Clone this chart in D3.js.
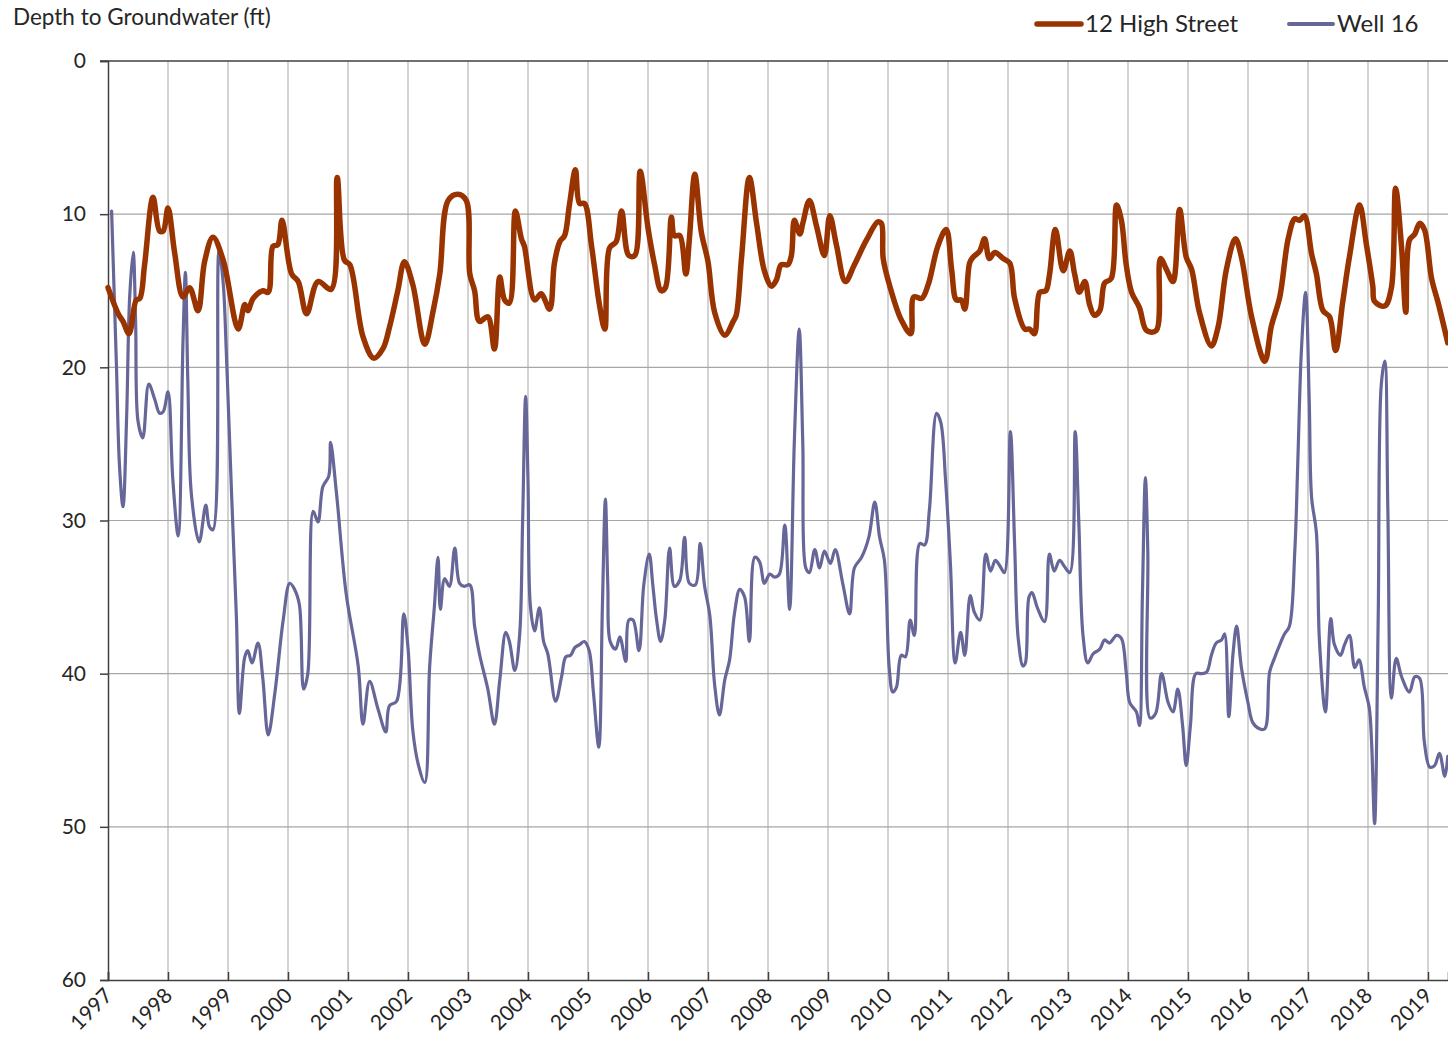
<!DOCTYPE html>
<html>
<head>
<meta charset="utf-8">
<script src="https://cdn.jsdelivr.net/npm/d3@7"></script>
<style>
  body { margin: 0; background: #fff; }
  svg { display: block; font-family: Lato, "Open Sans", sans-serif; }
</style>
</head>
<body>
<svg id="chart" width="1448" height="1054"></svg>
<script>
// 12 High Street, decimal year / depth (ft)
const hsYears = [1997.00,1997.17,1997.25,1997.35,1997.47,1997.53,1997.61,1997.75,1997.86,1997.92,1998.00,1998.11,1998.25,1998.36,1998.50,1998.61,1998.75,1998.92,1999.17,1999.28,1999.33,1999.42,1999.58,1999.67,1999.75,1999.83,1999.90,2000.06,2000.17,2000.31,2000.50,2000.72,2000.82,2000.94,2001.03,2001.25,2001.43,2001.58,2001.69,2001.83,2001.94,2002.08,2002.28,2002.42,2002.53,2002.67,2002.83,2002.97,2003.03,2003.11,2003.19,2003.33,2003.44,2003.53,2003.61,2003.69,2003.79,2003.89,2003.94,2004.11,2004.22,2004.36,2004.44,2004.53,2004.61,2004.69,2004.79,2004.86,2004.94,2005.06,2005.19,2005.28,2005.36,2005.47,2005.56,2005.68,2005.78,2005.87,2006.00,2006.11,2006.22,2006.29,2006.39,2006.44,2006.53,2006.63,2006.69,2006.78,2006.89,2007.00,2007.11,2007.28,2007.42,2007.47,2007.56,2007.69,2007.81,2007.94,2008.06,2008.14,2008.22,2008.33,2008.39,2008.44,2008.53,2008.58,2008.69,2008.81,2008.94,2009.03,2009.14,2009.29,2009.44,2009.64,2009.83,2009.89,2009.92,2010.03,2010.22,2010.38,2010.43,2010.56,2010.67,2010.83,2010.97,2011.06,2011.14,2011.22,2011.28,2011.36,2011.42,2011.53,2011.61,2011.69,2011.78,2011.92,2012.03,2012.11,2012.28,2012.36,2012.44,2012.53,2012.63,2012.69,2012.79,2012.92,2013.03,2013.11,2013.19,2013.28,2013.36,2013.44,2013.53,2013.61,2013.72,2013.81,2013.89,2013.97,2014.06,2014.19,2014.31,2014.47,2014.54,2014.64,2014.75,2014.86,2014.97,2015.06,2015.19,2015.39,2015.50,2015.64,2015.79,2015.89,2016.06,2016.28,2016.39,2016.53,2016.67,2016.78,2016.86,2016.94,2017.06,2017.14,2017.25,2017.36,2017.46,2017.58,2017.69,2017.86,2017.97,2018.08,2018.11,2018.28,2018.39,2018.46,2018.56,2018.63,2018.69,2018.78,2018.86,2018.94,2019.06,2019.17,2019.33];
const hsDepth = [14.8,16.5,17.0,17.8,15.6,15.5,13.3,8.9,11.1,11.1,9.6,12.5,15.4,14.8,16.3,13.1,11.5,13.0,17.5,15.9,16.3,15.5,15.0,15.1,12.1,12.0,10.4,13.9,14.4,16.5,14.4,14.9,7.6,13.0,13.3,18.0,19.4,18.8,17.4,15.0,13.1,14.6,18.5,16.3,13.9,9.1,8.7,9.1,13.9,15.0,17.0,16.7,18.8,14.1,15.6,15.8,9.8,11.6,12.1,15.6,15.2,16.2,13.2,11.8,11.4,9.4,7.1,9.3,9.3,12.1,15.9,17.5,12.2,11.8,9.8,12.7,12.7,7.2,10.9,13.3,15.0,14.8,10.2,11.4,11.4,13.9,11.6,7.4,11.2,13.1,16.4,17.9,17.0,16.6,12.8,7.6,10.6,13.7,14.7,14.3,13.3,13.3,12.7,10.4,11.3,10.6,9.1,10.8,12.7,10.1,12.0,14.4,13.3,11.7,10.5,10.6,12.9,14.7,16.9,17.8,15.4,15.5,14.6,12.1,11.0,13.6,15.6,15.6,16.2,13.2,12.8,12.4,11.6,12.9,12.5,12.9,13.2,15.5,17.5,17.5,17.8,15.1,15.0,14.0,11.0,13.7,12.4,13.9,15.1,14.4,15.9,16.6,16.3,14.5,14.2,9.4,10.4,13.3,15.1,16.1,17.6,17.6,12.9,13.6,14.4,9.7,12.8,13.6,16.4,18.6,17.4,13.6,11.6,12.8,16.7,19.6,17.3,15.4,11.6,10.3,10.4,10.1,12.6,13.9,16.3,16.7,18.9,15.7,12.8,9.4,11.9,14.7,15.7,16.0,14.8,8.3,12.2,16.4,11.7,11.3,10.6,11.0,14.2,15.8,18.4];

// Well 16, decimal year / depth (ft)
const wellYears = [1997.06,1997.14,1997.19,1997.25,1997.31,1997.36,1997.42,1997.46,1997.50,1997.58,1997.68,1997.78,1997.86,1997.92,1998.00,1998.08,1998.17,1998.25,1998.29,1998.33,1998.39,1998.52,1998.63,1998.69,1998.75,1998.85,1998.92,1998.97,1999.06,1999.14,1999.19,1999.28,1999.33,1999.40,1999.50,1999.58,1999.67,1999.78,1999.92,2000.03,2000.11,2000.19,2000.26,2000.33,2000.42,2000.50,2000.58,2000.68,2000.71,2000.81,2000.97,2001.17,2001.25,2001.36,2001.50,2001.63,2001.69,2001.81,2001.93,2002.00,2002.08,2002.17,2002.28,2002.36,2002.44,2002.50,2002.54,2002.61,2002.69,2002.78,2002.86,2002.94,2003.03,2003.11,2003.19,2003.33,2003.44,2003.53,2003.63,2003.69,2003.78,2003.86,2003.91,2003.96,2004.00,2004.04,2004.11,2004.19,2004.26,2004.33,2004.46,2004.56,2004.63,2004.71,2004.78,2004.86,2004.94,2005.02,2005.09,2005.18,2005.24,2005.29,2005.33,2005.37,2005.46,2005.53,2005.63,2005.68,2005.75,2005.85,2005.93,2006.02,2006.08,2006.14,2006.21,2006.28,2006.36,2006.44,2006.53,2006.61,2006.69,2006.79,2006.87,2006.94,2007.03,2007.11,2007.19,2007.28,2007.36,2007.44,2007.53,2007.61,2007.69,2007.78,2007.86,2007.94,2008.03,2008.11,2008.19,2008.28,2008.36,2008.44,2008.52,2008.58,2008.63,2008.69,2008.78,2008.86,2008.94,2009.04,2009.12,2009.25,2009.36,2009.44,2009.56,2009.68,2009.78,2009.86,2009.94,2010.02,2010.08,2010.14,2010.22,2010.29,2010.37,2010.44,2010.53,2010.61,2010.69,2010.81,2010.88,2010.96,2011.04,2011.12,2011.21,2011.28,2011.37,2011.44,2011.53,2011.63,2011.71,2011.79,2011.87,2011.94,2012.04,2012.11,2012.17,2012.25,2012.29,2012.35,2012.40,2012.49,2012.61,2012.69,2012.77,2012.86,2012.94,2013.03,2013.12,2013.18,2013.25,2013.33,2013.42,2013.53,2013.61,2013.69,2013.81,2013.89,2013.97,2014.03,2014.14,2014.19,2014.24,2014.29,2014.33,2014.37,2014.46,2014.56,2014.67,2014.75,2014.83,2014.91,2014.97,2015.04,2015.13,2015.22,2015.31,2015.39,2015.47,2015.56,2015.61,2015.68,2015.75,2015.81,2015.89,2016.00,2016.08,2016.19,2016.28,2016.36,2016.44,2016.53,2016.61,2016.69,2016.78,2016.83,2016.89,2016.96,2017.02,2017.06,2017.14,2017.19,2017.29,2017.38,2017.44,2017.54,2017.61,2017.69,2017.78,2017.85,2017.94,2018.02,2018.06,2018.11,2018.17,2018.22,2018.28,2018.33,2018.39,2018.47,2018.56,2018.69,2018.78,2018.86,2018.94,2019.03,2019.11,2019.19,2019.28,2019.33];
const wellDepth = [9.8,19.8,26.3,29.1,23.3,15.5,12.5,17.0,23.5,24.6,21.1,22.1,23.0,22.9,21.6,27.3,31.0,18.3,13.8,20.8,28.3,31.4,29.0,30.4,30.6,12.4,14.5,18.8,28.3,36.3,42.6,38.9,38.5,39.3,38.0,40.3,44.0,41.3,36.5,34.1,34.5,35.5,41.0,40.0,29.4,30.1,27.8,27.1,24.9,28.3,34.8,39.5,43.3,40.5,42.3,43.8,42.1,41.8,36.1,38.3,43.7,45.9,47.1,39.6,35.6,32.4,35.8,33.8,34.3,31.8,34.1,34.3,34.2,36.9,38.7,41.0,43.3,40.4,37.3,37.9,39.8,37.5,30.1,21.9,27.4,35.6,37.2,35.7,37.9,38.7,41.8,40.2,38.9,38.8,38.3,38.1,37.9,38.5,41.2,44.8,35.6,28.6,34.2,37.9,38.4,37.6,39.2,36.5,36.5,38.5,34.2,32.2,34.2,36.4,37.9,36.5,31.8,34.3,33.9,31.1,34.1,34.2,31.5,34.2,36.2,40.7,42.7,40.4,39.1,36.1,34.5,35.0,37.9,32.4,32.7,34.1,33.5,33.7,33.5,30.3,35.8,24.7,17.5,25.0,33.1,33.4,31.9,33.1,32.0,32.8,31.9,34.2,36.1,33.1,32.4,31.1,28.8,31.1,32.6,39.6,41.2,40.9,38.8,38.9,36.5,37.5,31.5,31.6,29.3,23.0,23.6,27.4,32.8,39.3,37.3,38.8,34.9,36.0,36.5,32.2,33.3,32.6,33.0,33.4,24.2,31.5,37.7,39.5,39.3,35.0,34.7,35.7,36.6,32.2,33.3,32.6,33.0,33.4,24.2,30.1,37.5,39.3,38.7,38.4,37.8,38.0,37.5,37.7,39.9,41.9,42.5,43.4,34.9,27.2,32.0,42.9,42.6,40.0,41.9,42.5,41.0,43.4,46.0,43.4,40.0,40.0,39.9,38.8,38.0,37.8,37.4,42.8,38.7,36.9,39.6,41.9,43.2,43.6,43.6,39.9,39.0,38.1,37.4,36.9,32.0,26.2,18.9,15.1,22.1,28.5,30.8,37.8,42.5,36.4,38.1,38.8,38.1,37.5,39.6,39.1,40.9,42.2,44.5,49.8,36.4,21.2,19.6,29.1,41.6,39.0,40.2,41.2,40.2,40.3,44.5,46.1,46.0,45.2,46.7,45.4];

const yearTicks = d3.range(1997, 2020);
const depthTicks = [0, 10, 20, 30, 40, 50, 60];

const seriesNames = ["12 High Street", "Well 16"];
const seriesColors = ["#993300", "#666699"];
const seriesWidths = [5.5, 3.2];

const width = 1448;
const height = 1054;
const margin = { top: 61, right: 0, bottom: 74, left: 108 };
const innerW = width - margin.left - margin.right;
const innerH = height - margin.top - margin.bottom;

const svg = d3.select("#chart");
const chart = svg.append("g")
  .attr("transform", `translate(${margin.left},${margin.top})`);

const x = d3.scaleLinear().domain([1997, 2019 + 1 / 3]).range([0, innerW]);
const y = d3.scaleLinear().domain([0, 60]).range([0, innerH]);

// vertical grid
chart.append("g")
  .selectAll("line")
  .data(yearTicks.slice(1))
  .join("line")
  .attr("x1", d => x(d)).attr("x2", d => x(d))
  .attr("y1", 0).attr("y2", innerH)
  .attr("stroke", "#c4c4c4")
  .attr("stroke-width", 1.5);

// horizontal grid
chart.append("g")
  .selectAll("line")
  .data(depthTicks.slice(1, -1))
  .join("line")
  .attr("x1", 0).attr("x2", innerW)
  .attr("y1", d => y(d)).attr("y2", d => y(d))
  .attr("stroke", "#a6a6a6")
  .attr("stroke-width", 1.2);

// top line at 0
chart.append("line")
  .attr("x1", -8).attr("x2", innerW)
  .attr("y1", 0).attr("y2", 0)
  .attr("stroke", "#404040")
  .attr("stroke-width", 1.5);

// y axis
const yAxis = chart.append("g")
  .call(d3.axisLeft(y).tickValues(depthTicks).tickSize(8).tickPadding(14));
yAxis.select(".domain").attr("stroke", "#404040").attr("stroke-width", 1.5);
yAxis.selectAll(".tick line").attr("stroke", "#404040").attr("stroke-width", 1.5);
yAxis.selectAll(".tick text")
  .attr("fill", "#262626")
  .style("font-size", "21px")
  .style("font-family", "Lato, sans-serif");

// x axis (ticks point inward)
const xAxis = chart.append("g")
  .attr("transform", `translate(0,${innerH})`)
  .call(d3.axisBottom(x).tickValues(yearTicks).tickSize(-8).tickFormat(d3.format("d")));
xAxis.select(".domain").attr("stroke", "#404040").attr("stroke-width", 1.5);
xAxis.selectAll(".tick line").attr("stroke", "#404040").attr("stroke-width", 1.5);
xAxis.selectAll(".tick text")
  .attr("fill", "#262626")
  .style("font-size", "21px")
  .style("font-family", "Lato, sans-serif")
  .attr("text-anchor", "end")
  .attr("dy", null)
  .attr("y", null)
  .attr("transform", "translate(5,17) rotate(-45)");

// lines
const line = d3.line()
  .x(d => x(d[0]))
  .y(d => y(d[1]))
  .curve(d3.curveCatmullRom.alpha(0.5));

const seriesData = [
  d3.zip(hsYears, hsDepth),
  d3.zip(wellYears, wellDepth)
];

[1, 0].forEach(i => {
  chart.append("path")
    .datum(seriesData[i])
    .attr("fill", "none")
    .attr("stroke", seriesColors[i])
    .attr("stroke-width", seriesWidths[i])
    .attr("stroke-linejoin", "round")
    .attr("stroke-linecap", "round")
    .attr("d", line);
});

// y title
svg.append("text")
  .attr("x", 13)
  .attr("y", 25)
  .attr("fill", "#262626")
  .style("font-size", "22.5px")
  .text("Depth to Groundwater (ft)");

// legend
const legendX = [1035, 1287];
seriesNames.forEach((name, i) => {
  const g = svg.append("g").attr("transform", `translate(${legendX[i]},24)`);
  g.append("line")
    .attr("x1", 2).attr("x2", 46)
    .attr("y1", 0).attr("y2", 0)
    .attr("stroke", seriesColors[i])
    .attr("stroke-width", i === 0 ? 5.5 : 4)
    .attr("stroke-linecap", "round");
  g.append("text")
    .attr("x", 50)
    .attr("y", 8)
    .attr("fill", "#262626")
    .style("font-size", "24px")
    .text(name);
});
</script>
</body>
</html>
